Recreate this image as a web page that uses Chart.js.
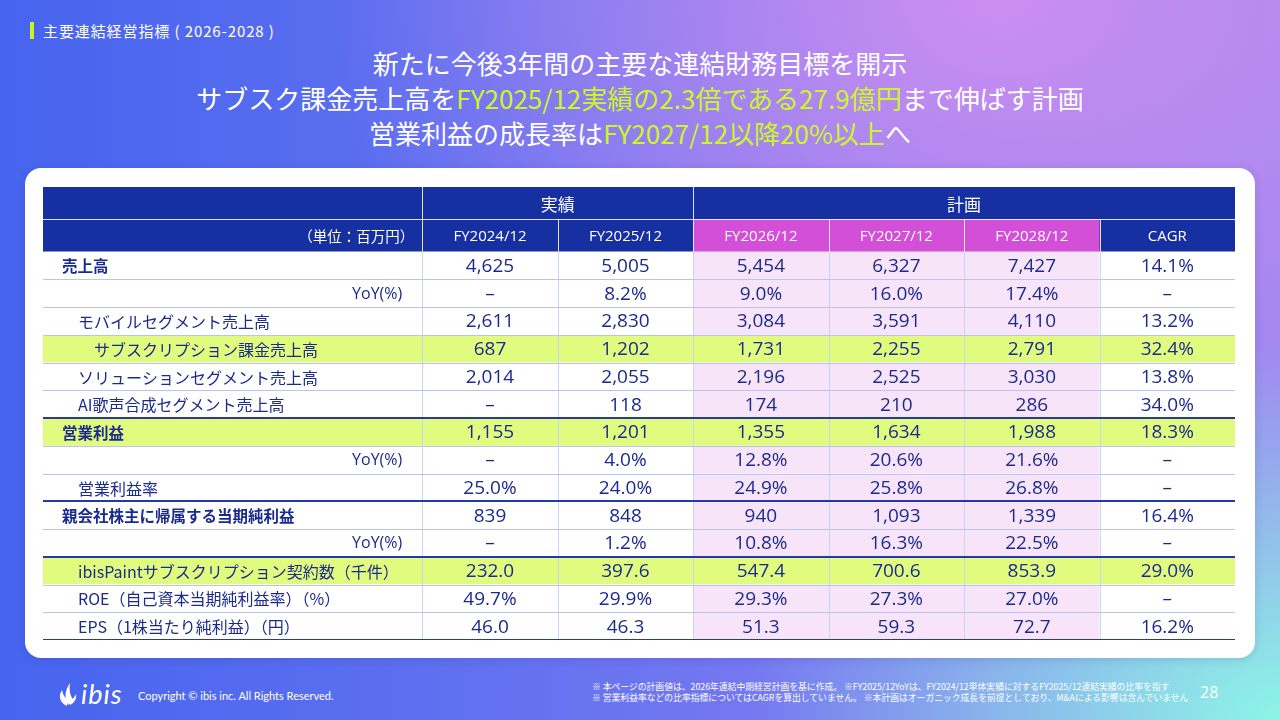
<!DOCTYPE html>
<html lang="ja">
<head>
<meta charset="utf-8">
<title>主要連結経営指標（2026-2028）</title>
<script src="https://cdn.jsdelivr.net/npm/chart.js@4.4.1/dist/chart.umd.min.js"></script>
<style>
  html, body { margin: 0; padding: 0; }
  body {
    width: 1280px; height: 720px; overflow: hidden; position: relative;
    font-family: "Noto Sans CJK JP", "Noto Sans", sans-serif;
    background:
      radial-gradient(ellipse 55% 70% at 100% 100%, rgba(140,245,230,1) 0%, rgba(140,245,230,0) 75%),
      radial-gradient(ellipse 70% 90% at 78% 0%, rgba(204,142,240,1) 0%, rgba(204,142,240,0) 75%),
      linear-gradient(90deg, #4664ee 0%, #5f70f0 35%, #9a86f0 100%);
  }
  .section {
    position: absolute; left: 30px; top: 22px; color: #fff; font-size: 15px; letter-spacing: 0.9px;
    padding-left: 9px; border-left: 4px solid #c8f520; line-height: 17px;
  }
  .headline {
    position: absolute; left: 0; top: 45px; width: 1280px; text-align: center;
    color: #fff; font-size: 26px; font-weight: 400; line-height: 35px;
  }
  .headline em { font-style: normal; color: #cdf52c; }
  .card {
    position: absolute; left: 25px; top: 168px; width: 1230px; height: 490px;
    background: #fff; border-radius: 16px; box-shadow: 0 2px 8px rgba(40,40,120,0.15);
  }
  #tableBox { position: absolute; left: 43px; top: 187px; width: 1192px; height: 453px; }
  .logo { position: absolute; left: 58px; top: 677px; color: #fff; display: flex; align-items: center; }
  .logo span { font-family: Lato, sans-serif; font-style: italic; font-size: 27px; font-weight: 400; letter-spacing: 1px; margin-left: 3px; }
  .copy { position: absolute; left: 138px; top: 689px; color: #fff; font-family: Lato, sans-serif; font-size: 11px; }
  .notes { position: absolute; left: 592px; top: 681px; color: #fff; font-size: 8.8px; line-height: 11px; white-space: nowrap; }
  .page { position: absolute; left: 1200px; top: 681px; color: #fff; font-family: "Open Sans", sans-serif; font-size: 16px; }
</style>
</head>
<body>
<div class="section">主要連結経営指標 ( 2026-2028 )</div>
<div class="headline">
  <div>新たに今後3年間の主要な連結財務目標を開示</div>
  <div>サブスク課金売上高を<em>FY2025/12実績の2.3倍である27.9億円</em>まで伸ばす計画</div>
  <div>営業利益の成長率は<em>FY2027/12以降20%以上</em>へ</div>
</div>
<div class="card"></div>
<div id="tableBox"><canvas id="chartTable"></canvas></div>

<div class="logo">
  <svg width="20" height="26" viewBox="0 0 20 26">
    <path d="M9 25 C2 22 0 15 4 9 C5 14 7 17 9 18 Z" fill="#fff"/>
    <path d="M10 24 C6 17 7 9 12 2 C11 9 12 15 15 18 C14 21 12 23 10 24 Z" fill="#fff"/>
    <path d="M12 24 C16 22 19 18 18 13 C16 17 14 19 12 20 Z" fill="#fff"/>
  </svg>
  <span>ibis</span>
</div>
<div class="copy">Copyright © ibis inc. All Rights Reserved.</div>
<div class="notes">
  <div>※ 本ページの計画値は、2026年連結中期経営計画を基に作成。 ※FY2025/12YoYは、FY2024/12単体実績に対するFY2025/12連結実績の比率を指す</div>
  <div>※ 営業利益率などの比率指標についてはCAGRを算出していません。 ※本計画はオーガニック成長を前提としており、M&amp;Aによる影響は含んでいません</div>
</div>
<div class="page">28</div>

<script>
// 表のデータ
const columns = ["FY2024/12", "FY2025/12", "FY2026/12", "FY2027/12", "FY2028/12", "CAGR"];
const groupLabels = ["実績", "計画"];
const groupSpans = [2, 4];
const unitLabel = "（単位：百万円）";

const rowLabels = [
  "売上高", "YoY(%)", "モバイルセグメント売上高", "サブスクリプション課金売上高",
  "ソリューションセグメント売上高", "AI歌声合成セグメント売上高",
  "営業利益", "YoY(%)", "営業利益率",
  "親会社株主に帰属する当期純利益", "YoY(%)",
  "ibisPaintサブスクリプション契約数（千件）",
  "ROE（自己資本当期純利益率）（%）", "EPS（1株当たり純利益）（円）"
];
// 値の種類: int = 3桁区切り, pct = %, dec = 小数1桁
const rowFormat = ["int", "pct", "int", "int", "int", "int", "int", "pct", "pct", "int", "pct", "dec", "pct", "dec"];

const fy2024 = [4625, null, 2611, 687, 2014, null, 1155, null, 25.0, 839, null, 232.0, 49.7, 46.0];
const fy2025 = [5005, 8.2, 2830, 1202, 2055, 118, 1201, 4.0, 24.0, 848, 1.2, 397.6, 29.9, 46.3];
const fy2026 = [5454, 9.0, 3084, 1731, 2196, 174, 1355, 12.8, 24.9, 940, 10.8, 547.4, 29.3, 51.3];
const fy2027 = [6327, 16.0, 3591, 2255, 2525, 210, 1634, 20.6, 25.8, 1093, 16.3, 700.6, 27.3, 59.3];
const fy2028 = [7427, 17.4, 4110, 2791, 3030, 286, 1988, 21.6, 26.8, 1339, 22.5, 853.9, 27.0, 72.7];
const cagr   = [14.1, null, 13.2, 32.4, 13.8, 34.0, 18.3, null, null, 16.4, null, 29.0, null, 16.2];

const values = [fy2024, fy2025, fy2026, fy2027, fy2028, cagr];

// 見た目
const NAVY = "#1630a2";
const TEXT = "#1b2a8e";
const PINK_HEAD = "#d44fd8";
const PINK_CELL = "#f8e4f8";
const GREEN = "#e0fb7e";
const LINE = "#b9c3ef";
const VLINE = "#c9d5f7";
const highlightRows = [3, 6, 11];
const thickAbove = [6, 9, 11, 14];
const boldRows = [0, 6, 9];
const yoyRows = [1, 7, 10];
const deepRows = [3];
const planCols = [2, 3, 4];

const LABEL_W = 2.8;   // ラベル列の幅（列単位）
const HEAD_H = 1.1667; // ヘッダー行の高さ（行単位）

function fmt(v, kind) {
  if (v === null) return "–";
  if (kind === "int") return v.toLocaleString("en-US");
  if (kind === "pct") return v.toFixed(1) + "%";
  return v.toFixed(1);
}

const points = [];
values.forEach((col, c) => {
  col.forEach((v, r) => {
    points.push({ x: c + 0.5, y: r + 0.5, text: c === 5 ? fmt(v, "pct") : fmt(v, rowFormat[r]) });
  });
});

const tablePlugin = {
  id: "tablePlugin",
  beforeDatasetsDraw(chart) {
    const { ctx, scales: { x, y } } = chart;
    const X = v => x.getPixelForValue(v);
    const Y = v => y.getPixelForValue(v);
    const left = X(-LABEL_W), right = X(columns.length);
    ctx.save();
    // ヘッダー
    ctx.fillStyle = NAVY;
    ctx.fillRect(left, Y(-2 * HEAD_H), right - left, Y(0) - Y(-2 * HEAD_H));
    ctx.fillStyle = PINK_HEAD;
    ctx.fillRect(X(planCols[0]), Y(-HEAD_H), X(planCols[2] + 1) - X(planCols[0]), Y(0) - Y(-HEAD_H));
    // 行の背景
    rowLabels.forEach((_, r) => {
      const top = Y(r), h = Y(r + 1) - Y(r);
      if (highlightRows.includes(r)) {
        ctx.fillStyle = GREEN;
        ctx.fillRect(left, top, right - left, h);
      } else {
        ctx.fillStyle = "#fff";
        ctx.fillRect(left, top, right - left, h);
        ctx.fillStyle = PINK_CELL;
        ctx.fillRect(X(planCols[0]), top, X(planCols[2] + 1) - X(planCols[0]), h);
      }
    });
    // 縦線
    ctx.lineWidth = 1;
    ctx.strokeStyle = VLINE;
    for (let c = 0; c < columns.length; c++) {
      ctx.beginPath();
      ctx.moveTo(Math.round(X(c)) + 0.5, Y(0));
      ctx.lineTo(Math.round(X(c)) + 0.5, Y(rowLabels.length));
      ctx.stroke();
    }
    // ヘッダーの白線
    ctx.strokeStyle = "rgba(255,255,255,0.85)";
    ctx.beginPath();
    ctx.moveTo(left, Math.round(Y(-HEAD_H)) + 0.5);
    ctx.lineTo(right, Math.round(Y(-HEAD_H)) + 0.5);
    ctx.stroke();
    const headCuts = [0, groupSpans[0]];
    for (let c = 0; c < columns.length; c++) {
      const px = Math.round(X(c)) + 0.5;
      ctx.beginPath();
      ctx.moveTo(px, headCuts.includes(c) ? Y(-2 * HEAD_H) : Y(-HEAD_H));
      ctx.lineTo(px, Y(0));
      ctx.stroke();
    }
    // 横線
    for (let r = 1; r <= rowLabels.length; r++) {
      const py = Y(r);
      if (thickAbove.includes(r)) {
        ctx.strokeStyle = "#2638a6";
        ctx.lineWidth = 2;
        ctx.beginPath();
        ctx.moveTo(left, Math.round(py));
        ctx.lineTo(right, Math.round(py));
        ctx.stroke();
      } else {
        ctx.strokeStyle = LINE;
        ctx.lineWidth = 1;
        ctx.beginPath();
        ctx.moveTo(left, Math.round(py) + 0.5);
        ctx.lineTo(right, Math.round(py) + 0.5);
        ctx.stroke();
      }
    }
    ctx.restore();
  },
  afterDatasetsDraw(chart) {
    const { ctx, scales: { x, y } } = chart;
    const X = v => x.getPixelForValue(v);
    const Y = v => y.getPixelForValue(v);
    ctx.save();
    ctx.textBaseline = "middle";
    // ヘッダー文字
    ctx.fillStyle = "#fff";
    ctx.textAlign = "center";
    ctx.font = '17px "Noto Sans CJK JP"';
    let start = 0;
    groupLabels.forEach((g, i) => {
      ctx.fillText(g, (X(start) + X(start + groupSpans[i])) / 2, Y(-1.5 * HEAD_H) + 1);
      start += groupSpans[i];
    });
    ctx.font = '500 15px "Open Sans", "Noto Sans CJK JP"';
    columns.forEach((c, i) => ctx.fillText(c, X(i + 0.5), Y(-0.5 * HEAD_H) + 1));
    ctx.textAlign = "right";
    ctx.font = '14.5px "Noto Sans CJK JP"';
    ctx.fillText(unitLabel, X(0) - 8, Y(-0.5 * HEAD_H) + 1);
    // 行ラベル
    ctx.fillStyle = TEXT;
    rowLabels.forEach((lab, r) => {
      const cy = Y(r + 0.5) + 1;
      if (yoyRows.includes(r)) {
        ctx.textAlign = "right";
        ctx.font = '16px "Open Sans", "Noto Sans CJK JP"';
        ctx.fillText(lab, X(0) - 20, cy);
        return;
      }
      ctx.textAlign = "left";
      if (boldRows.includes(r)) {
        ctx.font = 'bold 15.5px "Noto Sans CJK JP"';
        ctx.fillText(lab, X(-LABEL_W) + 19, cy);
      } else {
        ctx.font = '16px "Noto Sans CJK JP"';
        ctx.fillText(lab, X(-LABEL_W) + (deepRows.includes(r) ? 51 : 35), cy);
      }
    });
    // 値
    ctx.textAlign = "center";
    ctx.font = '19px "Open Sans"';
    const meta = chart.getDatasetMeta(0);
    meta.data.forEach((el, i) => {
      ctx.fillText(chart.data.datasets[0].data[i].text, el.x, el.y + 1);
    });
    ctx.restore();
  }
};

new Chart(document.getElementById("chartTable"), {
  type: "scatter",
  data: {
    datasets: [{ data: points, pointRadius: 0, pointHoverRadius: 0 }]
  },
  options: {
    responsive: true,
    maintainAspectRatio: false,
    animation: false,
    events: [],
    layout: { padding: 0 },
    plugins: { legend: { display: false }, tooltip: { enabled: false } },
    scales: {
      x: { type: "linear", display: false, min: -LABEL_W, max: columns.length },
      y: { type: "linear", display: false, reverse: true, min: -2 * HEAD_H, max: rowLabels.length }
    }
  },
  plugins: [tablePlugin]
});
</script>
</body>
</html>
